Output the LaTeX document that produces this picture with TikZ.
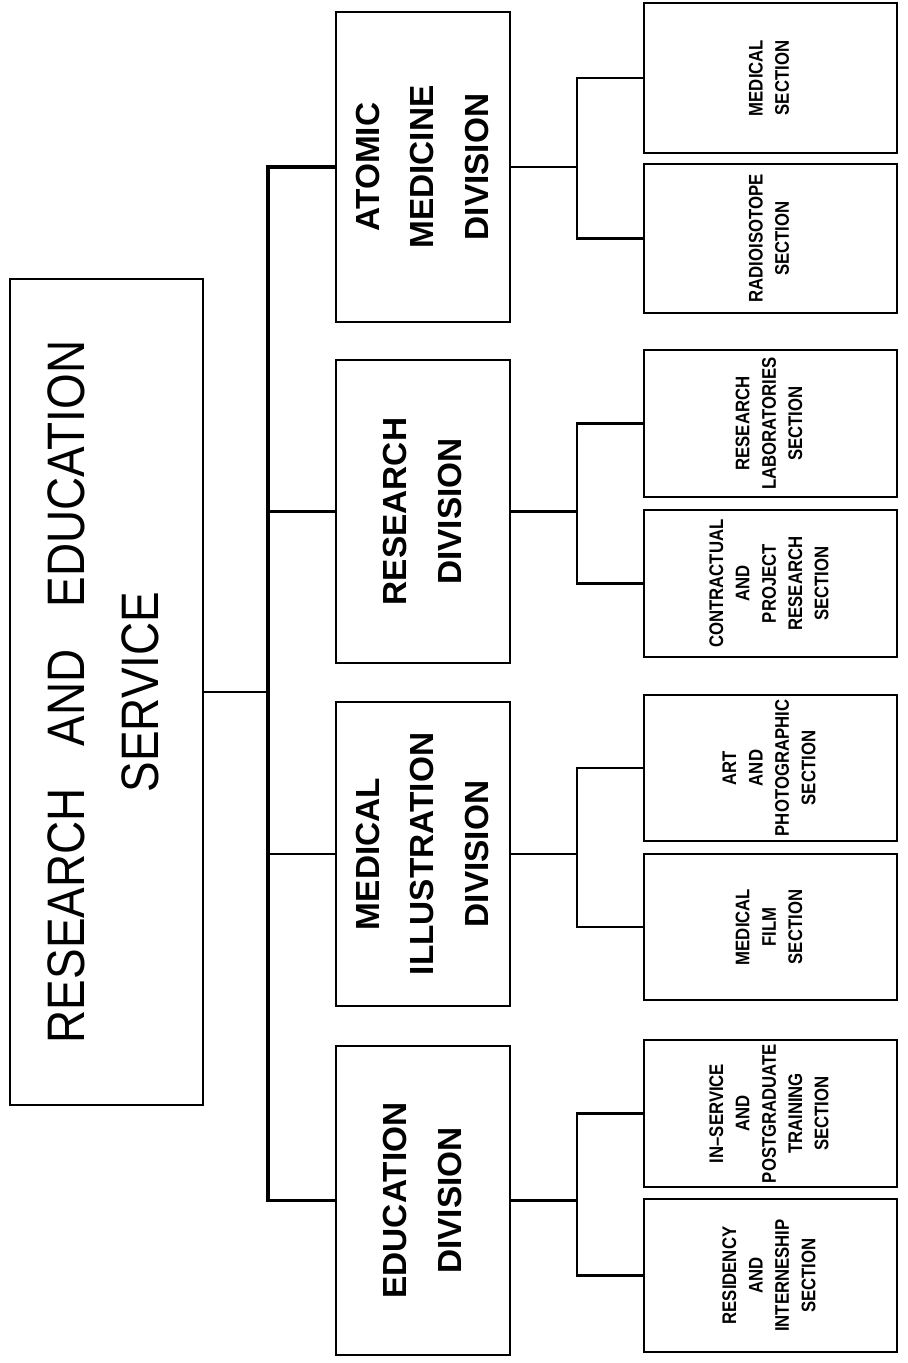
\documentclass[tikz,border=0pt]{standalone}
\usepackage{fontspec}
\setmainfont{Liberation Sans}
\newfontfamily\titlefont[FakeStretch=0.87,WordSpace=3.3]{Liberation Sans}
\newfontfamily\secfont[FakeStretch=0.85,Ligatures=TeX]{Liberation Sans}
\newcommand{\uptext}[1]{\rotatebox{90}{\begin{tabular}{@{}c@{}}#1\end{tabular}}}

\begin{document}
\begin{tikzpicture}[x=0.1mm, y=-0.1mm,
    box/.style={draw, line width=0.5pt, inner sep=0pt},
    servicebox/.style={box, minimum width=19.3mm, minimum height=82.6mm,
        font=\titlefont\fontsize{15}{21}\selectfont},
    divbox/.style={box, minimum width=17.4mm,
        font=\bfseries\fontsize{9.5}{15.5}\selectfont},
    secbox/.style={box, minimum width=25.3mm,
        font=\secfont\bfseries\fontsize{5.6}{7.5}\selectfont},
    conn/.style={line width=0.7pt}]
    \useasboundingbox (0,0) rectangle (907,1363);

    % service
    \node[servicebox] (service) at (106.5,692) {\uptext{RESEARCH AND EDUCATION\\SERVICE}};

    % divisions
    \node[divbox, minimum height=31mm] (atomic) at (423,167) {\uptext{ATOMIC\\MEDICINE\\DIVISION}};
    \node[divbox, minimum height=30.3mm] (research) at (423,511.5) {\uptext{RESEARCH\\DIVISION}};
    \node[divbox, minimum height=30.4mm] (medill) at (423,854) {\uptext{MEDICAL\\ILLUSTRATION\\DIVISION}};
    \node[divbox, minimum height=30.9mm] (education) at (423,1200.5) {\uptext{EDUCATION\\DIVISION}};

    % sections
    \node[secbox, minimum height=15mm] (medsec) at (770.5,78) {\uptext{MEDICAL\\SECTION}};
    \node[secbox, minimum height=14.9mm] (radio) at (770.5,238.5) {\uptext{RADIOISOTOPE\\SECTION}};
    \node[secbox, minimum height=14.7mm] (labs) at (770.5,423.5) {\uptext{RESEARCH\\LABORATORIES\\SECTION}};
    \node[secbox, minimum height=14.7mm] (contract) at (770.5,583.5) {\uptext{CONTRACTUAL\\AND\\PROJECT\\RESEARCH\\SECTION}};
    \node[secbox, minimum height=14.6mm] (art) at (770.5,768) {\uptext{ART\\AND\\PHOTOGRAPHIC\\SECTION}};
    \node[secbox, minimum height=14.6mm] (film) at (770.5,927) {\uptext{MEDICAL\\FILM\\SECTION}};
    \node[secbox, minimum height=14.7mm] (inserv) at (770.5,1113.5) {\uptext{IN--SERVICE\\AND\\POSTGRADUATE\\TRAINING\\SECTION}};
    \node[secbox, minimum height=15.3mm] (resid) at (770.5,1275.5) {\uptext{RESIDENCY\\AND\\INTERNESHIP\\SECTION}};

    \coordinate (trunk) at (268,0);
    \coordinate (sub) at (577,0);

    % service to divisions
    \draw[conn] (service.east) -- (service.east -| trunk);
    \draw[conn, line width=0.9pt] (atomic.west) -- (atomic.west -| trunk) -- (education.west -| trunk) -- (education.west);
    \draw[conn] (research.west) -- (research.west -| trunk);
    \draw[conn] (medill.west) -- (medill.west -| trunk);

    % divisions to sections
    \draw[conn] (atomic.east) -- (atomic.east -| sub);
    \draw[conn] (medsec.west) -- (medsec.west -| sub) -- (radio.west -| sub) -- (radio.west);
    \draw[conn] (research.east) -- (research.east -| sub);
    \draw[conn] (labs.west) -- (labs.west -| sub) -- (contract.west -| sub) -- (contract.west);
    \draw[conn] (medill.east) -- (medill.east -| sub);
    \draw[conn] (art.west) -- (art.west -| sub) -- (film.west -| sub) -- (film.west);
    \draw[conn] (education.east) -- (education.east -| sub);
    \draw[conn] (inserv.west) -- (inserv.west -| sub) -- (resid.west -| sub) -- (resid.west);
\end{tikzpicture}
\end{document}
